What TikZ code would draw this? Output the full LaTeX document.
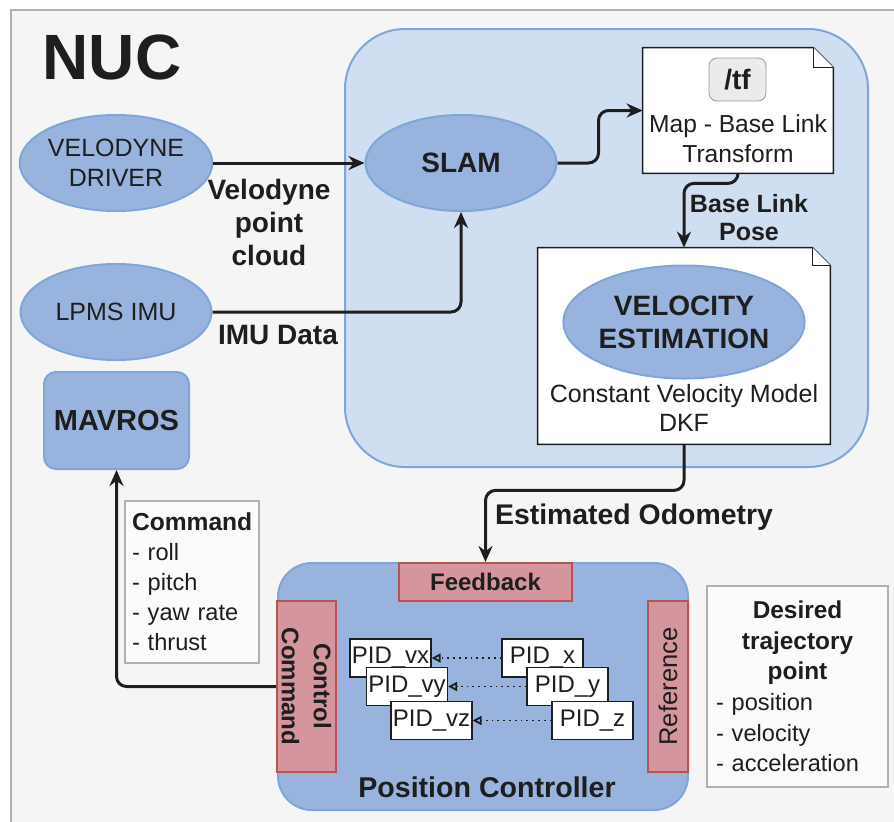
\documentclass[tikz,border=0pt]{standalone}
\usepackage{fontspec}
\setmainfont{Liberation Sans}
\usetikzlibrary{arrows.meta,shapes.geometric,positioning}
\definecolor{nucbg}{HTML}{F5F5F5}
\definecolor{nucline}{HTML}{B0B0B0}
\definecolor{slambg}{HTML}{CFDEF0}
\definecolor{blueline}{HTML}{7EA6D8}
\definecolor{bluefill}{HTML}{98B4DE}
\definecolor{pinkfill}{HTML}{D4959C}
\definecolor{pinkline}{HTML}{B85450}
\definecolor{inkline}{HTML}{1E1E1E}
\definecolor{tfgray}{HTML}{EBEBEB}
\begin{document}
\begin{tikzpicture}[x=0.5pt, y=-0.5pt, text=inkline,
  font=\fontsize{12.5}{16.5}\selectfont,
  blob/.style={ellipse, draw=blueline, fill=bluefill, line width=1pt, align=center, inner sep=0pt},
  pinkbox/.style={draw=pinkline, fill=pinkfill, line width=1pt, inner sep=0pt, align=center},
  pidbox/.style={draw=inkline, fill=white, line width=0.6pt, minimum width=40.5pt, minimum height=19pt, inner sep=0pt, font=\fontsize{12}{14}\selectfont},
  flow/.style={draw=inkline, line width=1.5pt, rounded corners=5pt, -{Stealth[length=8pt,width=7pt]}},
  pidflow/.style={draw=inkline, dotted, line width=0.9pt, -{Triangle[open,length=4.5pt,width=4.5pt]}},
  notebox/.style={draw=nucline, fill=nucbg!40!white, line width=1pt, inner sep=0pt},
  docline/.style={draw=inkline, fill=white, line width=0.8pt}
]
\useasboundingbox (0,0) rectangle (894,821);
\begin{scope}
\clip (0,0) rectangle (894,821);
\fill[white] (0,0) rectangle (894,821);
\draw[nucline, fill=nucbg, line width=1pt] (11,10) rectangle (920,850);
\end{scope}

\node[font=\fontsize{32}{32}\selectfont\bfseries] (nuc) at (112,57) {NUC};

\node[draw=blueline, fill=slambg, line width=1pt, rounded corners=30pt, minimum width=261.5pt, minimum height=219pt] (slamarea) at (606.5,248) {};

\node[blob, minimum width=95.5pt, minimum height=48pt, font=\fontsize{12.5}{15}\selectfont] (velodyne) at (116,163) {VELODYNE\\DRIVER};
\node[blob, minimum width=95.5pt, minimum height=48pt, font=\fontsize{12.5}{15}\selectfont] (lpms) at (116,312) {LPMS IMU};
\node[draw=blueline, fill=bluefill, line width=1pt, rounded corners=6pt, minimum width=72.5pt, minimum height=48.5pt, font=\fontsize{14.5}{16}\selectfont\bfseries] (mavros) at (116.5,420.5) {MAVROS};
\node[blob, minimum width=95.5pt, minimum height=48pt, font=\fontsize{14}{15}\selectfont\bfseries] (slam) at (461,163) {SLAM};

\node[minimum width=95pt, minimum height=62.5pt, inner sep=0pt] (tf) at (738,110.5) {};
\draw[docline] (tf.north west) -- ([xshift=-10pt]tf.north east) -- ([yshift=-10pt]tf.north east) -- (tf.south east) -- (tf.south west) -- cycle;
\draw[docline, line width=0.6pt] ([xshift=-10pt]tf.north east) -- ++(0,-10pt) -- ([yshift=-10pt]tf.north east);
\node[draw=black!40, fill=tfgray, rounded corners=4pt, minimum width=28.5pt, minimum height=21.5pt, inner sep=0pt, font=\fontsize{14}{15}\selectfont\bfseries] (tflabel) at (737.5,79.5) {/tf};
\node[align=center, font=\fontsize{12.3}{15}\selectfont] (tftext) at (738,139) {Map - Base Link\\Transform};

\node[minimum width=146pt, minimum height=98pt, inner sep=0pt] (veldoc) at (684,346) {};
\draw[docline] (veldoc.north west) -- ([xshift=-9pt]veldoc.north east) -- ([yshift=-9pt]veldoc.north east) -- (veldoc.south east) -- (veldoc.south west) -- cycle;
\draw[docline, line width=0.6pt] ([xshift=-9pt]veldoc.north east) -- ++(0,-9pt) -- ([yshift=-9pt]veldoc.north east);
\node[blob, minimum width=110.5pt, minimum height=56.5pt, font=\fontsize{14}{16.5}\selectfont\bfseries] (velest) at (684,322) {VELOCITY\\ESTIMATION};
\node[align=center, font=\fontsize{12.5}{14.5}\selectfont] (kfmodel) at (684,408) {Constant Velocity Model\\DKF};

\node[draw=blueline, fill=bluefill, line width=1pt, rounded corners=17pt, minimum width=205pt, minimum height=123.5pt] (posctrl) at (483,686.5) {};
\node[pinkbox, minimum width=86.5pt, minimum height=19pt, font=\fontsize{12}{14}\selectfont\bfseries] (feedback) at (485.5,582) {Feedback};
\node[pinkbox, rotate=-90, minimum width=85.5pt, minimum height=29.5pt, font=\fontsize{12}{16}\selectfont\bfseries] (ctrl) at (306.5,686.5) {Control\\Command};
\node[pinkbox, rotate=90, minimum width=85.5pt, minimum height=20pt, font=\fontsize{12.8}{14}\selectfont] (reference) at (668,686.5) {Reference};
\node[font=\fontsize{14.3}{15}\selectfont\bfseries] (posname) at (487,787) {Position Controller};

\node[pidbox] (pidvx) at (390.5,658) {PID\_vx};
\node[pidbox] (pidvy) at (407,686.5) {PID\_vy};
\node[pidbox] (pidvz) at (431.5,720.5) {PID\_vz};
\node[pidbox] (pidx) at (542.5,658) {PID\_x};
\node[pidbox] (pidy) at (567.5,686.5) {PID\_y};
\node[pidbox] (pidz) at (592.5,720.5) {PID\_z};
\draw[pidflow] (pidx.west) -- (pidvx.east);
\draw[pidflow] (pidy.west) -- (pidvy.east);
\draw[pidflow] (pidz.west) -- (pidvz.east);

\node[notebox, minimum width=67pt, minimum height=81pt, text width=60pt, align=left, font=\fontsize{11.8}{15}\selectfont] (cmdnote) at (192,582) {\textbf{\fontsize{12.3}{15}\selectfont Command}\\- roll\\- pitch\\- yaw rate\\- thrust};
\node[notebox, minimum width=90.5pt, minimum height=100.5pt, text width=81.5pt, align=left, font=\fontsize{11.8}{15.3}\selectfont] (trajnote) at (797.5,686.5) {{\centering\bfseries\fontsize{12.2}{15.3}\selectfont Desired\\trajectory\\point\par}- position\\- velocity\\- acceleration};

\draw[flow] (velodyne.east) -- (slam.west);
\draw[flow] (lpms.east) -| (slam.south);
\draw[flow] (slam.east) -- ++(41,0) |- (tf.west);
\draw[flow] (tf.south) -- ++(0,10) -| (veldoc.north);
\draw[flow] (veldoc.south) -- ++(0,46) -| (feedback.north);
\draw[flow] (ctrl.south) -| (mavros.south);

\node[align=center, font=\fontsize{14}{16.5}\selectfont\bfseries] (velolabel) at (269,222) {Velodyne\\point\\cloud};
\node[font=\fontsize{14}{15}\selectfont\bfseries] (imulabel) at (278,335) {IMU Data};
\node[align=center, font=\fontsize{12.5}{14}\selectfont\bfseries] (poselabel) at (749,218) {Base Link\\Pose};
\node[font=\fontsize{14.2}{15}\selectfont\bfseries] (odomlabel) at (634,517) {Estimated Odometry};
\end{tikzpicture}
\end{document}
